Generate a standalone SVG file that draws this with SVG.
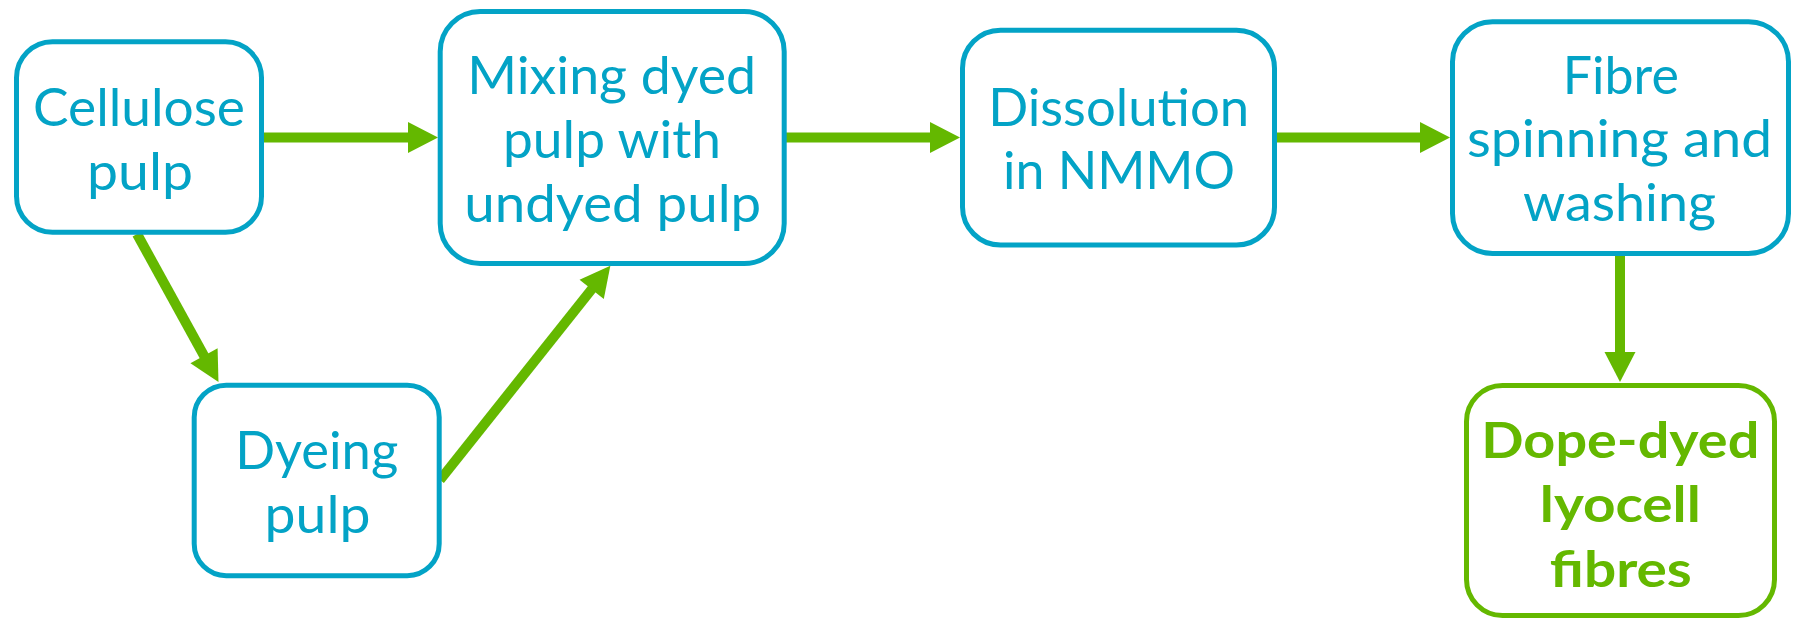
<svg xmlns="http://www.w3.org/2000/svg" width="1795" height="618" viewBox="0 0 1795 618">
<style>
.box{fill:#fff;stroke:#03A3C6;stroke-width:5}
.fin{fill:#fff;stroke:#64B800;stroke-width:5}
.t{font-family:Lato,"Open Sans","Liberation Sans",sans-serif;font-size:52px;fill:#03A3C6;text-anchor:middle}
.b{font-family:Lato,"Open Sans","Liberation Sans",sans-serif;font-size:50px;font-weight:bold;fill:#64B800;text-anchor:middle}
.c{stroke:#64B800;stroke-width:10;fill:none}
</style>
<defs>
<marker id="ah" markerUnits="userSpaceOnUse" markerWidth="32" markerHeight="32" refX="1" refY="15.5" orient="auto" overflow="visible">
<path d="M0,0 L30,15.5 L0,31 Z" fill="#64B800"/>
</marker>
</defs>
<rect width="1795" height="618" fill="#fff"/>
<g id="connectors">
<line class="c" x1="263" y1="137.5" x2="409" y2="137.5" marker-end="url(#ah)"/>
<line class="c" x1="785" y1="137.5" x2="931" y2="137.5" marker-end="url(#ah)"/>
<line class="c" x1="1276" y1="137.5" x2="1421" y2="137.5" marker-end="url(#ah)"/>
<line class="c" x1="1620" y1="256" x2="1620" y2="353" marker-end="url(#ah)"/>
<line class="c" x1="137" y1="234" x2="204.5" y2="356.7" marker-end="url(#ah)"/>
<line class="c" x1="440" y1="480" x2="592.3" y2="288.5" marker-end="url(#ah)"/>
</g>
<g id="cellulose">
<rect class="box" x="16.5" y="41.8" width="245" height="190.5" rx="36"/>
<text class="t" x="139" y="126" textLength="212" lengthAdjust="spacingAndGlyphs">Cellulose</text>
<text class="t" x="140" y="190" textLength="106" lengthAdjust="spacingAndGlyphs">pulp</text>
</g>
<g id="mixing">
<rect class="box" x="440.2" y="11.5" width="344" height="252" rx="40"/>
<text class="t" x="611.7" y="94.3" textLength="289" lengthAdjust="spacingAndGlyphs">Mixing dyed</text>
<text class="t" x="612" y="157.7" textLength="218" lengthAdjust="spacingAndGlyphs">pulp with</text>
<text class="t" x="612.7" y="221.7" textLength="297" lengthAdjust="spacingAndGlyphs">undyed pulp</text>
</g>
<g id="dissolution">
<rect class="box" x="962.5" y="30.2" width="312" height="214.8" rx="38"/>
<text class="t" x="1118.7" y="125.7" textLength="261" lengthAdjust="spacingAndGlyphs">Dissolution</text>
<text class="t" x="1119" y="189.3" textLength="232" lengthAdjust="spacingAndGlyphs">in NMMO</text>
</g>
<g id="fibre">
<rect class="box" x="1452.5" y="21.8" width="336" height="231.7" rx="40"/>
<text class="t" x="1620.8" y="94" textLength="116" lengthAdjust="spacingAndGlyphs">Fibre</text>
<text class="t" x="1619.5" y="156.7" textLength="305" lengthAdjust="spacingAndGlyphs">spinning and</text>
<text class="t" x="1619.5" y="220.7" textLength="193" lengthAdjust="spacingAndGlyphs">washing</text>
</g>
<g id="dyeing">
<rect class="box" x="194.2" y="385.2" width="245" height="190.5" rx="32"/>
<text class="t" x="316.7" y="469" textLength="163" lengthAdjust="spacingAndGlyphs">Dyeing</text>
<text class="t" x="317.5" y="533.3" textLength="106" lengthAdjust="spacingAndGlyphs">pulp</text>
</g>
<g id="dope">
<rect class="fin" x="1466.5" y="385.5" width="308" height="230" rx="36"/>
<text class="b" x="1620.3" y="458" textLength="278" lengthAdjust="spacingAndGlyphs">Dope-dyed</text>
<text class="b" x="1620.3" y="522.3" textLength="161" lengthAdjust="spacingAndGlyphs">lyocell</text>
<text class="b" x="1620.8" y="586.7" textLength="142" lengthAdjust="spacingAndGlyphs">fibres</text>
</g>
</svg>
